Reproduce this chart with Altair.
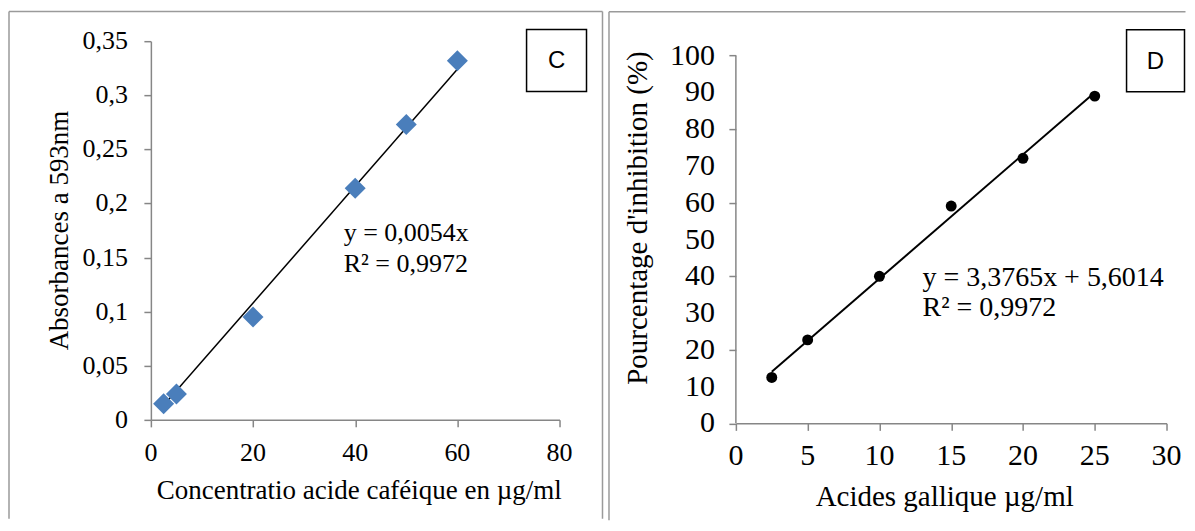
import altair as alt
import pandas as pd

# ---------------- data ----------------
# Panel C : caffeic acid calibration
c_conc = [2.5, 5, 20, 40, 50, 60]
c_abs = [0.015, 0.024, 0.095, 0.214, 0.273, 0.332]
c_trend = [0.0054, 0.0]                 # slope, intercept (Excel trendline)
c_eq = ["y = 0,0054x", "R² = 0,9972"]
c_xticks = [0, 20, 40, 60, 80]
c_yticks = [0, 0.05, 0.1, 0.15, 0.2, 0.25, 0.3, 0.35]
c_xtitle = "Concentratio acide caféique en µg/ml"
c_ytitle = "Absorbances a 593nm"

# Panel D : gallic acid inhibition
d_conc = [2.5, 5, 10, 15, 20, 25]
d_inh = [12.5, 22.7, 40.0, 59.1, 72.1, 89.0]
d_trend = [3.3765, 5.6014]
d_eq = ["y = 3,3765x + 5,6014", "R² = 0,9972"]
d_xticks = [0, 5, 10, 15, 20, 25, 30]
d_yticks = [0, 10, 20, 30, 40, 50, 60, 70, 80, 90, 100]
d_xtitle = "Acides gallique µg/ml"
d_ytitle = "Pourcentage d'inhibition (%)"

# ---------------- layout constants ----------------
SERIF = "Liberation Serif"
SANS = "Liberation Sans"
AXIS_GRAY = "#868686"
BORDER_GRAY = "#9a9a9a"
TICK = 7

C_W, C_H = 409, 379
D_W, D_H = 431, 368
D_TOP = 14.5                      # extra room above the D plot (panels share their origin)
D_YMAX = 100 * (D_H + D_TOP) / D_H

c_eq_pos = (37.75, [0.1726, 0.144])
d_eq_pos = (13.0, [39.4, 31.5])

one = pd.DataFrame({"k": [0]})


def fr(v):
    return f"{v:g}".replace(".", ",")


def rule(x, y, x2=None, y2=None):
    enc = dict(x=alt.value(x), y=alt.value(y))
    if x2 is not None:
        enc["x2"] = alt.value(x2)
    if y2 is not None:
        enc["y2"] = alt.value(y2)
    return alt.Chart(one).mark_rule(color=BORDER_GRAY, strokeWidth=1.5).encode(**enc)


def label_box(x1, x2, y1, y2, letter):
    box = alt.Chart(one).mark_rect(fill="white", stroke="black", strokeWidth=1.5).encode(
        x=alt.value(x1), x2=alt.value(x2), y=alt.value(y1), y2=alt.value(y2)
    )
    txt = alt.Chart(one).mark_text(font=SANS, fontSize=24, color="black",
                                   align="center", baseline="middle").encode(
        x=alt.value((x1 + x2) / 2), y=alt.value((y1 + y2) / 2 + 1), text=alt.value(letter)
    )
    return box + txt


def free_text(x, y, text, size, angle=0):
    return alt.Chart(one).mark_text(font=SERIF, fontSize=size, color="black", align="center",
                                    baseline="middle", angle=angle).encode(
        x=alt.value(x), y=alt.value(y), text=alt.value(text))


def tick_labels(xenc, yenc, ticks, orient, pos, size):
    df = pd.DataFrame({"v": ticks, "t": [fr(v) for v in ticks]})
    if orient == "x":
        return alt.Chart(df).mark_text(font=SERIF, fontSize=size, color="black", align="center",
                                       baseline="top").encode(
            x=alt.X("v:Q", scale=xenc), y=alt.value(pos), text="t:N")
    return alt.Chart(df).mark_text(font=SERIF, fontSize=size, color="black", align="right",
                                   baseline="middle").encode(
        y=alt.Y("v:Q", scale=yenc), x=alt.value(pos), text="t:N")


# ---------------- panel C ----------------
c_df = pd.DataFrame({"x": c_conc, "y": c_abs})
c_line = pd.DataFrame({"x": [min(c_conc), max(c_conc)]})
c_line["y"] = c_trend[0] * c_line["x"] + c_trend[1]
c_txt = pd.DataFrame({"x": [c_eq_pos[0]] * 2, "y": c_eq_pos[1], "t": c_eq})

c_fs, c_tfs = 26, 27
c_xscale = alt.Scale(domain=[0, 80], nice=False, zero=True)
c_yscale = alt.Scale(domain=[0, 0.35], nice=False, zero=True)
cx = alt.X("x:Q", scale=c_xscale, title=None, axis=alt.Axis(values=c_xticks, labels=False))
cy = alt.Y("y:Q", scale=c_yscale, title=None, axis=alt.Axis(values=c_yticks, labels=False))

c_pts = alt.Chart(c_df).mark_point(shape="diamond", filled=True, size=441, opacity=1,
                                   color="#4A7EBB").encode(x=cx, y=cy)
c_trendline = alt.Chart(c_line).mark_line(color="black", strokeWidth=1.5).encode(x=cx, y=cy)
c_eqtext = alt.Chart(c_txt).mark_text(font=SERIF, fontSize=c_fs, align="left", baseline="middle",
                                      color="black").encode(x=cx, y=cy, text="t:N")

c_border = rule(-142, -29.7, x2=452) + rule(-142, -29.7, y2=478) + rule(452, -29.7, y2=478)
c_chart = alt.layer(
    c_border, c_trendline, c_pts, c_eqtext,
    tick_labels(c_xscale, c_yscale, c_xticks, "x", C_H + TICK + 13, c_fs),
    tick_labels(c_xscale, c_yscale, c_yticks, "y", -TICK - 16, c_fs),
    free_text(208.5, C_H + 71, c_xtitle, c_tfs),
    free_text(-91, C_H / 2, c_ytitle, c_tfs, angle=270),
    label_box(376, 436, -11.7, 50.3, "C"),
).properties(width=C_W, height=C_H)

# ---------------- panel D ----------------
d_df = pd.DataFrame({"x": d_conc, "y": d_inh})
d_line = pd.DataFrame({"x": [min(d_conc), max(d_conc)]})
d_line["y"] = d_trend[0] * d_line["x"] + d_trend[1]
d_txt = pd.DataFrame({"x": [d_eq_pos[0]] * 2, "y": d_eq_pos[1], "t": d_eq})
d_axisline = pd.DataFrame({"x": [0], "y": [min(d_yticks)], "y2": [max(d_yticks)]})

d_fs, d_tfs, d_efs = 30, 29, 28
d_xscale = alt.Scale(domain=[0, 30], nice=False, zero=True)
d_yscale = alt.Scale(domain=[0, D_YMAX], nice=False, zero=True)
dx = alt.X("x:Q", scale=d_xscale, title=None, axis=alt.Axis(values=d_xticks, labels=False))
dy = alt.Y("y:Q", scale=d_yscale, title=None,
           axis=alt.Axis(values=d_yticks, labels=False, domain=False))

d_yline = alt.Chart(d_axisline).mark_rule(color=AXIS_GRAY, strokeWidth=1.5).encode(
    x=dx, y=dy, y2="y2:Q")
d_pts = alt.Chart(d_df).mark_circle(size=120, opacity=1, color="black").encode(x=dx, y=dy)
d_trendline = alt.Chart(d_line).mark_line(color="black", strokeWidth=2).encode(x=dx, y=dy)
d_eqtext = alt.Chart(d_txt).mark_text(font=SERIF, fontSize=d_efs, align="left", baseline="middle",
                                      color="black").encode(x=dx, y=dy, text="t:N")

d_border = rule(-127, -44 + D_TOP, x2=450) + rule(-127, -44 + D_TOP, y2=465 + D_TOP)
d_chart = alt.layer(
    d_border, d_yline, d_trendline, d_pts, d_eqtext,
    tick_labels(d_xscale, d_yscale, d_xticks, "x", D_H + D_TOP + TICK + 11, d_fs),
    tick_labels(d_xscale, d_yscale, d_yticks, "y", -TICK - 14, d_fs),
    free_text(209, D_H + D_TOP + 74, d_xtitle, d_tfs),
    free_text(-98, 162.5 + D_TOP, d_ytitle, d_tfs, angle=270),
    label_box(391, 449, -26 + D_TOP, 36 + D_TOP, "D"),
).properties(width=D_W, height=D_H + D_TOP)

chart = alt.hconcat(c_chart, d_chart, spacing=4.5).properties(
    padding={"left": 0, "top": 2, "right": 0, "bottom": 0}
).configure_view(stroke=None).configure_axis(
    domainColor=AXIS_GRAY, domainWidth=1.5, tickColor=AXIS_GRAY, tickWidth=1.5, tickSize=TICK,
    grid=False
)

chart.save("out.html", embed_options={"renderer": "svg", "actions": False})
